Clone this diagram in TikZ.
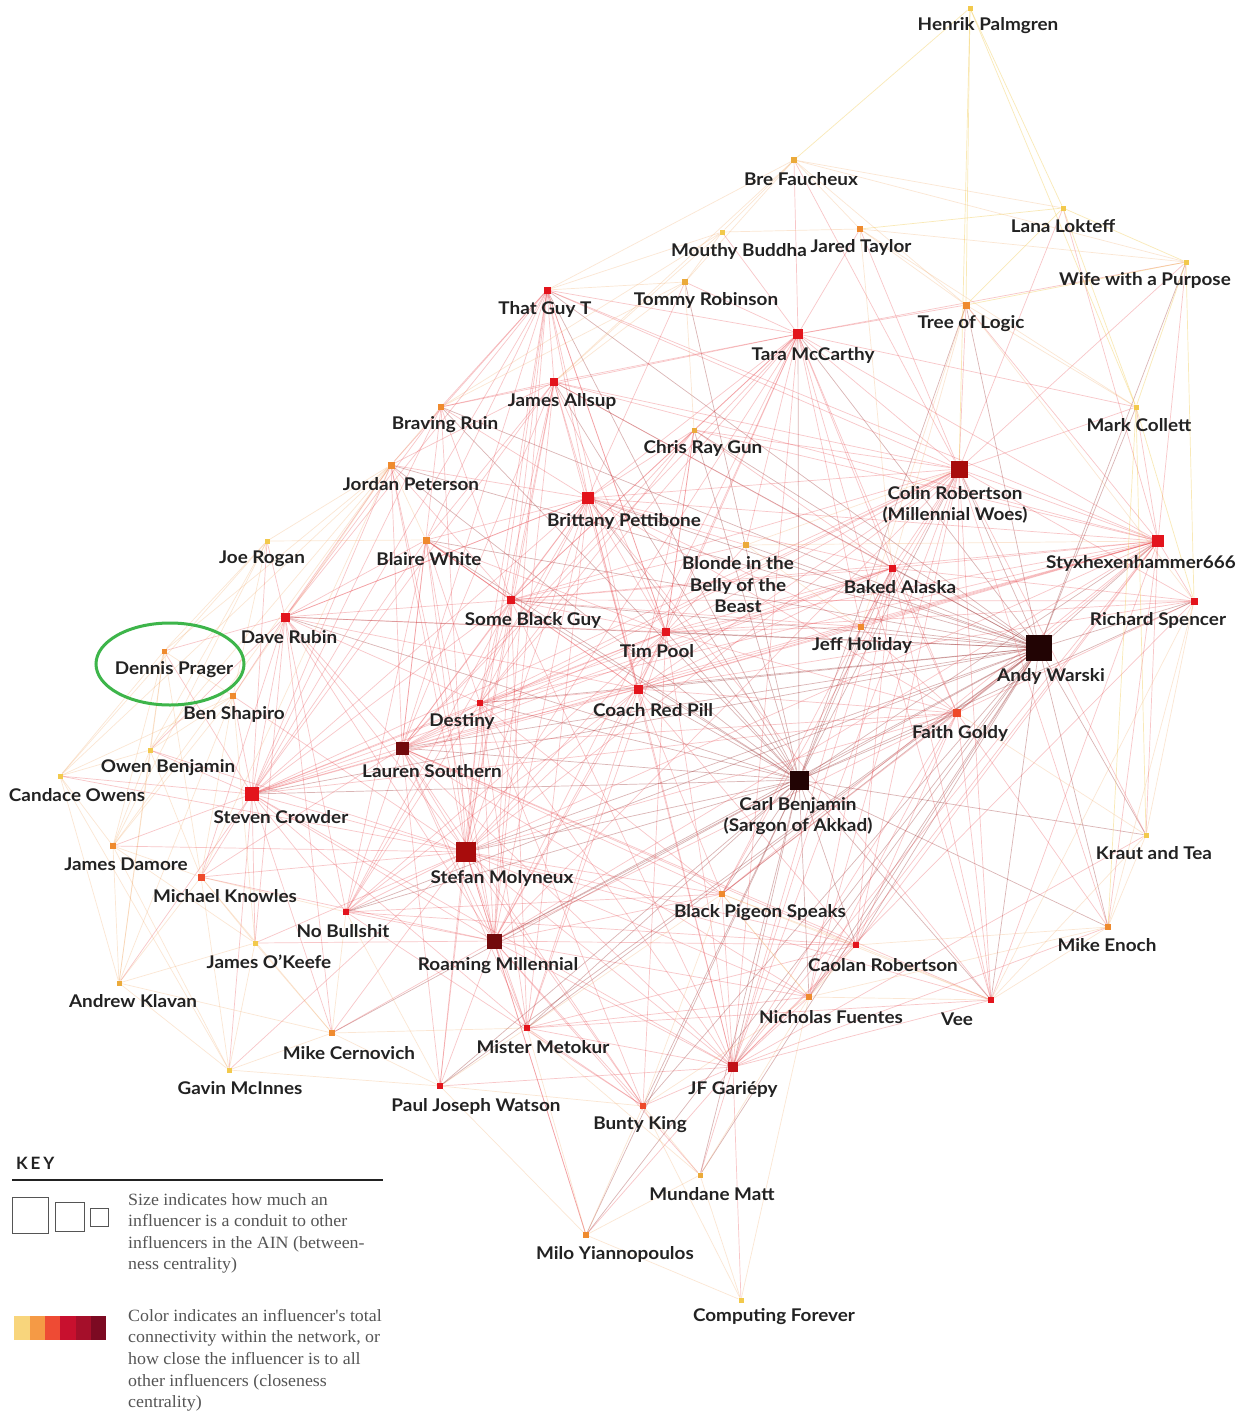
\documentclass[tikz,border=0pt]{standalone}
\usepackage{fontspec}
\setmainfont{Lato}[FakeStretch=1.08]
\newfontfamily\keyserif{Liberation Serif}[FakeStretch=1.04]
\newfontfamily\keysans{Lato}
\usetikzlibrary{backgrounds}
\definecolor{cy}{HTML}{F2C94C}
\definecolor{cyo}{HTML}{EBAA3A}
\definecolor{co}{HTML}{EF8A2E}
\definecolor{cro}{HTML}{EE4A2A}
\definecolor{cr}{HTML}{E3141C}
\definecolor{cdr}{HTML}{A80C0C}
\definecolor{cdd}{HTML}{720A0C}
\definecolor{cblk}{HTML}{220404}
\definecolor{labc}{HTML}{222222}
\definecolor{keyc}{HTML}{555555}
\definecolor{k1}{HTML}{F8D57C}
\definecolor{k2}{HTML}{F59A45}
\definecolor{k3}{HTML}{EE4B34}
\definecolor{k4}{HTML}{C8102E}
\definecolor{k5}{HTML}{A50F2A}
\definecolor{k6}{HTML}{7C0A22}
\definecolor{ringc}{HTML}{3DB54A}
\tikzset{
  sq/.style={rectangle, inner sep=0pt, outer sep=0pt, minimum size=#1},
  lab/.style={font=\fontsize{17.5}{21.5}\selectfont\bfseries, text=labc, inner sep=0pt, align=center},
  keytxt/.style={font=\keyserif\fontsize{17.2}{21.6}\selectfont, text=keyc, inner sep=0pt, align=left, anchor=north west},
  ed/.style={draw=cdr!80!black, opacity=0.30, line width=0.7pt},
  er/.style={draw=cr!80, opacity=0.30, line width=0.7pt},
  eo/.style={draw=co!80, opacity=0.26, line width=0.7pt},
  ey/.style={draw=cy, opacity=0.40, line width=0.7pt},
  keybox/.style={draw=keyc, line width=0.8pt, inner sep=0pt}
}
\begin{document}
\begin{tikzpicture}[x=1pt,y=-1pt]
\useasboundingbox (0,0) rectangle (1247,1416);
% nodes
\node[sq=5,fill=cy] (HP) at (970,8) {};
\node[sq=6,fill=cyo] (BF) at (794,160) {};
\node[sq=5,fill=cy] (LL) at (1063,208) {};
\node[sq=5,fill=cy] (MB) at (722,232) {};
\node[sq=6,fill=co] (JT) at (860,229) {};
\node[sq=5,fill=cy] (WP) at (1186,262) {};
\node[sq=6,fill=cyo] (TR) at (685,282) {};
\node[sq=7,fill=cr] (TG) at (547,290) {};
\node[sq=7,fill=co] (TL) at (966,305) {};
\node[sq=10,fill=cr] (TM) at (798,334) {};
\node[sq=8,fill=cr] (JA) at (554,382) {};
\node[sq=6,fill=co] (BR) at (441,407) {};
\node[sq=5,fill=cy] (MC) at (1136,407) {};
\node[sq=5,fill=cyo] (CG) at (694,430) {};
\node[sq=17,fill=cdr] (CR) at (959,469) {};
\node[sq=7,fill=co] (JP) at (391,465) {};
\node[sq=12,fill=cr] (BP) at (588,498) {};
\node[sq=5,fill=cy] (JR) at (267,541) {};
\node[sq=7,fill=co] (BW) at (426,540) {};
\node[sq=6,fill=cyo] (BB) at (746,545) {};
\node[sq=12,fill=cr] (SX) at (1158,541) {};
\node[sq=7,fill=cr] (BA) at (892,568) {};
\node[sq=8,fill=cr] (SB) at (511,600) {};
\node[sq=7,fill=cr] (RS) at (1194,601) {};
\node[sq=9,fill=cr] (DR) at (285,617) {};
\node[sq=6,fill=co] (JH) at (861,627) {};
\node[sq=26,fill=cblk] (AW) at (1039,648) {};
\node[sq=8,fill=cr] (TP) at (666,632) {};
\node[sq=5,fill=co] (DP) at (164,651) {};
\node[sq=9,fill=cr] (CP) at (638,689) {};
\node[sq=6,fill=co] (BS) at (233,696) {};
\node[sq=6,fill=cr] (DE) at (480,703) {};
\node[sq=8,fill=cro] (FG) at (957,713) {};
\node[sq=13,fill=cdd] (LS) at (402,748) {};
\node[sq=5,fill=cy] (OB) at (150,750) {};
\node[sq=5,fill=cy] (CO) at (60,776) {};
\node[sq=19,fill=cblk] (CB) at (799,780) {};
\node[sq=14,fill=cr] (SC) at (252,794) {};
\node[sq=5,fill=cy] (KT) at (1146,835) {};
\node[sq=6,fill=co] (JD) at (113,846) {};
\node[sq=20,fill=cdr] (SM) at (466,852) {};
\node[sq=7,fill=cro] (MK) at (201,877) {};
\node[sq=6,fill=co] (BG) at (722,894) {};
\node[sq=6,fill=co] (ME) at (1108,927) {};
\node[sq=6,fill=cr] (NB) at (346,912) {};
\node[sq=5,fill=cy] (JO) at (255,943) {};
\node[sq=15,fill=cdd] (RM) at (494,941) {};
\node[sq=6,fill=cr] (CA) at (856,945) {};
\node[sq=5,fill=cyo] (AK) at (119,983) {};
\node[sq=6,fill=cr] (VE) at (991,1000) {};
\node[sq=6,fill=co] (NF) at (809,997) {};
\node[sq=6,fill=co] (MN) at (332,1033) {};
\node[sq=6,fill=cr] (MM) at (527,1028) {};
\node[sq=10,fill=cr!85!black] (JF) at (733,1067) {};
\node[sq=5,fill=cy] (GM) at (229,1070) {};
\node[sq=6,fill=cr] (PW) at (440,1086) {};
\node[sq=6,fill=cro] (BK) at (643,1106) {};
\node[sq=5,fill=cyo] (MU) at (700,1175) {};
\node[sq=6,fill=co] (MY) at (586,1235) {};
\node[sq=5,fill=cy] (CF) at (741,1300) {};
% edges
\begin{pgfonlayer}{background}
\fill[white] (0,0) rectangle (1247,1416);
\foreach \a/\l in {
 AW/{CR,SX,RS,CB,SM,LS,RM,JF,VE,ME,NF,CA,FG,JH,BA,TP,CP,BG,MM,TM,BP,SB,DE,SC,TL,MC,KT,JA,TG,BB,DR,NB,PW,BK,MY,WP,CG,BR,MU,JP,BW},
 CB/{CR,SX,RS,SM,LS,RM,JF,VE,ME,NF,CA,FG,BA,TP,CP,BG,MM,TM,BP,SB,DE,SC,DR,NB,JA,TG,PW,BK,MU,MY,KT,JP,BW,TR,CG,BR,MN,TL,JH}}
 {\foreach \b in \l {\draw[ed] (\a) -- (\b);}}
\foreach \a/\l in {
 SM/{LS,RM,SC,DR,BP,TM,SB,TP,CP,DE,CR,SX,JF,MM,PW,NB,MK,JO,BG,NF,CA,BS,JP,BW,TG,JA,BR,JD,MN,GM,MY,BK,VE,FG,CO,OB},
 CR/{SX,RS,TM,TL,MC,LL,BF,JT,BA,JH,FG,LS,RM,JF,VE,ME,NF,BP,TG,JA,SB,TP,CP,DE,BG,CA,WP,KT,SC},
 LS/{RM,SC,DR,BP,TM,SB,TP,CP,DE,SX,JF,MM,PW,NB,BG,JA,TG,BR,FG,BA,MK,JP,BW,CG,BK,NF,CA,VE},
 RM/{SC,DR,BP,TM,SB,TP,CP,DE,SX,JF,MM,PW,NB,MK,JO,BG,TG,JA,MN,BK,MY,CA,NF,FG,BW,JP,MU},
 SC/{DR,BS,BW,JP,DP,OB,MK,JD,JO,NB,AK,GM,MN,SB,BP,TP,CP,DE,TG,JA,BR,JR,CO,MM,JF,FG,BA,SX},
 SX/{RS,TM,BA,JH,FG,MC,WP,TL,LL,BP,SB,TP,CP,JF,VE,ME,NF,CA,KT,BG,JA,TG,DE},
 JF/{VE,ME,NF,CA,BG,BK,MM,MU,MY,CF,PW,TP,CP,SB,BP,DE,FG,BA,RS,KT,TM,JH},
 TM/{JA,TG,BA,BP,SB,TP,CP,JT,TR,MB,BR,TL,WP,MC,BF,DE,JH,CG,BB,FG,VE},
 BP/{TG,JA,BR,JP,BW,SB,TP,CP,DE,DR,TR,CG,BB,BA,JH,FG,NB,MM,VE},
 DR/{JP,BW,BS,DP,JR,SB,TP,BP,DE,CP,OB,BR,MK,JO,NB,MN,TG},
 SB/{TP,CP,DE,JA,TG,BR,BW,JP,BA,JH,BB,NB,MM,RS},
 TP/{CP,DE,BA,JH,BB,JA,TG,CG,FG,RS,NB,MM,BK},
 CP/{DE,BA,JH,FG,BG,NB,MM,RS,CA},
 TG/{JA,BR,JP,BW,TP,CP,DE},
 JA/{BR,JP,BW,BA,CP,DE},
 BA/{JH,FG,RS,VE,CA,NF,BG,DE},
 FG/{JH,VE,ME,NF,CA,BG,RS},
 DE/{NB,MM,BG,PW,BK},
 CG/{SB,TP,CP,DE,BA,CR,SX},
 BW/{SB,TP,CP,DE,NB},
 MM/{VE,NF,CA,BK},
 NB/{BK,BG,CA}}
 {\foreach \b in \l {\draw[er] (\a) -- (\b);}}
\foreach \a/\l in {
 JP/{BR,BW,JR,BS,DP,OB,CO,JD,MK},
 JR/{BW,DP,BS,OB,CO,JD},
 DP/{BS,OB,CO,JD,AK,MK},
 BS/{OB,CO,JD,MK,AK,JO},
 OB/{CO,JD,MK,AK},
 CO/{JD,AK,GM},
 JD/{MK,AK,GM,JO},
 MK/{JO,AK,GM,NB,MN},
 AK/{GM,JO,MN},
 GM/{MN,JO,PW},
 MN/{PW,MM,NB,JO},
 KT/{RS,ME,VE,FG},
 ME/{RS,VE,NF,CA},
 VE/{NF,CA,RS},
 NF/{CA,BG,BK,MU},
 MU/{MY,CF,BK,MM},
 MY/{CF,MM,PW,BK},
 CF/{BK,NF},
 BG/{CA,NF,BK,MM,VE},
 PW/{MM,NB,BK},
 BF/{MB,TR,JT,TL,LL,TG,JA,WP},
 MB/{TR,TG,JA,JT,BR},
 TR/{TG,JA,BR,CG},
 TL/{MC,BA,JH,RS},
 JT/{TL,MC,WP,BA},
 BB/{CR,SX,JH}}
 {\foreach \b in \l {\draw[eo] (\a) -- (\b);}}
\foreach \a/\l in {
 HP/{BF,LL,TL,CR,MC},
 LL/{TL,MC,WP,JT},
 WP/{TL,MC,RS},
 MC/{RS,KT,ME}}
 {\foreach \b in \l {\draw[ey] (\a) -- (\b);}}
\end{pgfonlayer}
% labels
\node[lab] (HPl) at (988,26) {Henrik Palmgren};
\node[lab] (BFl) at (801,179) {Bre Faucheux};
\node[lab] (LLl) at (1063,226) {Lana Lokteff};
\node[lab] (MBl) at (739,251) {Mouthy Buddha};
\node[lab] (JTl) at (861,247) {Jared Taylor};
\node[lab] (WPl) at (1145,280) {Wife with a Purpose};
\node[lab] (TRl) at (706,300) {Tommy Robinson};
\node[lab] (TGl) at (545,309) {That Guy T};
\node[lab] (TLl) at (971,324) {Tree of Logic};
\node[lab] (TMl) at (813,355) {Tara McCarthy};
\node[lab] (JAl) at (562,401) {James Allsup};
\node[lab] (BRl) at (445,425) {Braving Ruin};
\node[lab] (MCl) at (1139,425) {Mark Collett};
\node[lab] (CGl) at (703,448) {Chris Ray Gun};
\node[lab] (CRl) at (955,505) {Colin Robertson\\(Millennial Woes)};
\node[lab] (JPl) at (411,484) {Jordan Peterson};
\node[lab] (BPl) at (624,521) {Brittany Pettibone};
\node[lab] (JRl) at (262,559) {Joe Rogan};
\node[lab] (BWl) at (429,559) {Blaire White};
\node[lab] (BBl) at (738,585) {Blonde in the\\Belly of the\\Beast};
\node[lab] (SXl) at (1141,563) {Styxhexenhammer666};
\node[lab] (BAl) at (900,587) {Baked Alaska};
\node[lab] (SBl) at (533,620) {Some Black Guy};
\node[lab] (RSl) at (1158,620) {Richard Spencer};
\node[lab] (DRl) at (289,637) {Dave Rubin};
\node[lab] (JHl) at (862,645) {Jeff Holiday};
\node[lab] (AWl) at (1051,676) {Andy Warski};
\node[lab] (TPl) at (657,651) {Tim Pool};
\node[lab] (DPl) at (174,670) {Dennis Prager};
\node[lab] (CPl) at (653,710) {Coach Red Pill};
\node[lab] (BSl) at (234,714) {Ben Shapiro};
\node[lab] (DEl) at (462,721) {Destiny};
\node[lab] (FGl) at (960,733) {Faith Goldy};
\node[lab] (LSl) at (432,771) {Lauren Southern};
\node[lab] (OBl) at (168,768) {Owen Benjamin};
\node[lab] (COl) at (77,795) {Candace Owens};
\node[lab] (CBl) at (798,816) {Carl Benjamin\\(Sargon of Akkad)};
\node[lab] (SCl) at (281,817) {Steven Crowder};
\node[lab] (KTl) at (1154,853) {Kraut and Tea};
\node[lab] (JDl) at (126,864) {James Damore};
\node[lab] (SMl) at (502,878) {Stefan Molyneux};
\node[lab] (MKl) at (225,896) {Michael Knowles};
\node[lab] (BGl) at (760,913) {Black Pigeon Speaks};
\node[lab] (MEl) at (1107,945) {Mike Enoch};
\node[lab] (NBl) at (343,931) {No Bullshit};
\node[lab] (JOl) at (269,962) {James O'Keefe};
\node[lab] (RMl) at (498,966) {Roaming Millennial};
\node[lab] (CAl) at (883,965) {Caolan Robertson};
\node[lab] (AKl) at (133,1001) {Andrew Klavan};
\node[lab] (VEl) at (957,1019) {Vee};
\node[lab] (NFl) at (831,1017) {Nicholas Fuentes};
\node[lab] (MNl) at (349,1053) {Mike Cernovich};
\node[lab] (MMl) at (543,1047) {Mister Metokur};
\node[lab] (JFl) at (733,1089) {JF Gariépy};
\node[lab] (GMl) at (240,1088) {Gavin McInnes};
\node[lab] (PWl) at (476,1106) {Paul Joseph Watson};
\node[lab] (BKl) at (640,1125) {Bunty King};
\node[lab] (MUl) at (712,1194) {Mundane Matt};
\node[lab] (MYl) at (615,1254) {Milo Yiannopoulos};
\node[lab] (CFl) at (774,1317) {Computing Forever};
% highlight ring
\draw[ringc, line width=3pt] (170,664) ellipse [x radius=74, y radius=41];
% key
\node[font=\keysans\fontsize{17}{17}\selectfont\bfseries, text=labc, anchor=west, inner sep=0pt] (keyt) at (16,1163) {K\,E\,Y};
\draw[line width=1.6pt, labc] (12,1180) -- (383,1180);
\node[keybox, minimum size=36pt] (kb1) at (30,1215) {};
\node[keybox, minimum size=29pt] (kb2) at (69.5,1216.5) {};
\node[keybox, minimum size=18pt] (kb3) at (99.5,1217) {};
\node[keytxt] (kt1) at (128,1193) {Size indicates how much an\\influencer is a conduit to other\\influencers in the AIN (between-\\ness centrality)};
\fill[k1] (14,1316) rectangle (29.5,1340);
\fill[k2] (29.5,1316) rectangle (44.5,1340);
\fill[k3] (44.5,1316) rectangle (60,1340);
\fill[k4] (60,1316) rectangle (75.5,1340);
\fill[k5] (75.5,1316) rectangle (91,1340);
\fill[k6] (91,1316) rectangle (106,1340);
\node[keytxt] (kt2) at (128,1309) {Color indicates an influencer's total\\connectivity within the network, or\\how close the influencer is to all\\other influencers (closeness\\centrality)};
\end{tikzpicture}
\end{document}
